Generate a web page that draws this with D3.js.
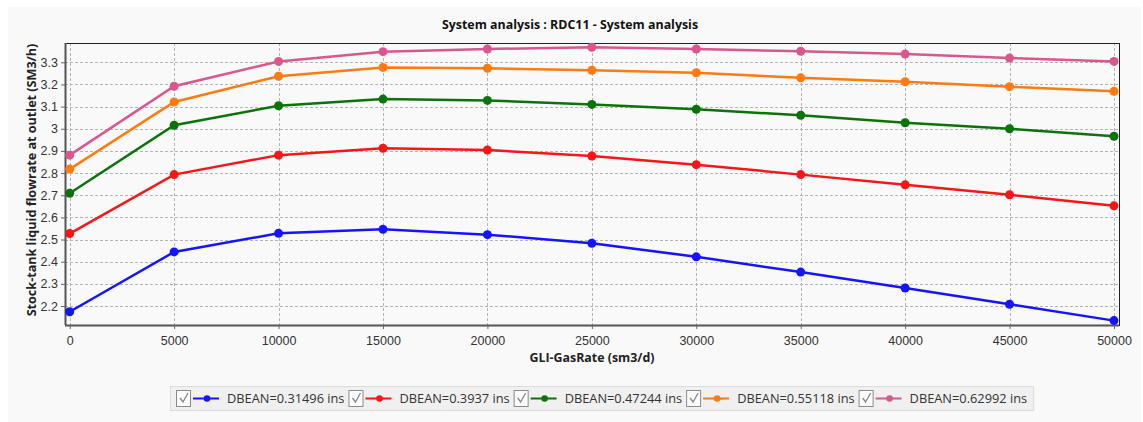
<!DOCTYPE html>
<html>
<head>
<meta charset="utf-8">
<script src="https://cdn.jsdelivr.net/npm/d3@7"></script>
<style>
  body { margin: 0; background: #fff; }
  svg { display: block; font-family: "Open Sans", "DejaVu Sans", sans-serif; }
</style>
</head>
<body>
<svg id="viz"></svg>
<script>
(function() {
  const gasRates = [0, 5000, 10000, 15000, 20000, 25000, 30000, 35000, 40000, 45000, 50000];
  const seriesNames = ['DBEAN=0.31496 ins', 'DBEAN=0.3937 ins', 'DBEAN=0.47244 ins', 'DBEAN=0.55118 ins', 'DBEAN=0.62992 ins'];
  const seriesColors = ['#1414ff', '#f51616', '#0a730a', '#ff7a0f', '#d9578c'];
  const dbean031 = [2.174, 2.444, 2.528, 2.546, 2.522, 2.483, 2.422, 2.353, 2.281, 2.208, 2.134];
  const dbean039 = [2.527, 2.793, 2.881, 2.912, 2.904, 2.877, 2.838, 2.793, 2.747, 2.702, 2.652];
  const dbean047 = [2.709, 3.016, 3.104, 3.134, 3.128, 3.110, 3.088, 3.061, 3.027, 3.000, 2.966];
  const dbean055 = [2.818, 3.121, 3.237, 3.277, 3.273, 3.264, 3.253, 3.230, 3.212, 3.190, 3.169];
  const dbean063 = [2.881, 3.192, 3.304, 3.348, 3.360, 3.368, 3.360, 3.350, 3.337, 3.319, 3.304];
  const yTicks = [2.2, 2.3, 2.4, 2.5, 2.6, 2.7, 2.8, 2.9, 3, 3.1, 3.2, 3.3];

  const allSeries = [dbean031, dbean039, dbean047, dbean055, dbean063];

  const W = 1143, H = 422;
  const plot = { left: 65, top: 43, right: 1119, bottom: 325 };

  const svg = d3.select('#viz').attr('width', W).attr('height', H);

  // panel background
  svg.append('rect').attr('x', 8).attr('y', 7).attr('width', W - 10).attr('height', H - 7).attr('fill', '#f9f9f9');

  const x = d3.scaleLinear().domain([0, 50000]).range([69.7, 1114]);
  const y = d3.scaleLinear().domain([2.2, 3.3]).range([306, 62.3]);

  // grid
  const grid = svg.append('g').attr('stroke', '#b4b4b4').attr('stroke-dasharray', '3,2').attr('stroke-width', 1);
  grid.selectAll('line.v').data(gasRates).join('line')
    .attr('x1', d => Math.round(x(d)) + 0.5).attr('x2', d => Math.round(x(d)) + 0.5)
    .attr('y1', plot.top).attr('y2', plot.bottom);
  grid.selectAll('line.h').data(yTicks).join('line')
    .attr('y1', d => Math.round(y(d)) + 0.5).attr('y2', d => Math.round(y(d)) + 0.5)
    .attr('x1', plot.left).attr('x2', plot.right);

  // frame
  svg.append('rect')
    .attr('x', plot.left + 0.5).attr('y', plot.top + 0.5)
    .attr('width', plot.right - plot.left).attr('height', plot.bottom - plot.top)
    .attr('fill', 'none').attr('stroke', '#222').attr('stroke-width', 1);

  // axes
  const xAxis = svg.append('g').attr('transform', `translate(0,${plot.bottom})`)
    .call(d3.axisBottom(x).tickValues(gasRates).tickFormat(d3.format('d')).tickSize(4).tickSizeOuter(0));
  const yAxis = svg.append('g').attr('transform', `translate(${plot.left},0)`)
    .call(d3.axisLeft(y).tickValues(yTicks).tickFormat(d => String(d)).tickSize(4).tickSizeOuter(0));
  [xAxis, yAxis].forEach(a => {
    a.select('.domain').attr('stroke', '#555').attr('stroke-width', 2);
    a.selectAll('.tick line').attr('stroke', '#666');
    a.selectAll('.tick text').attr('fill', '#333').style('font-size', '12.5px');
  });
  yAxis.select('.domain').attr('d', `M0.5,${plot.top}V${plot.bottom}`);
  xAxis.select('.domain').attr('d', `M${plot.left},0.5H${plot.right}`);
  xAxis.selectAll('.tick text').attr('dy', '1.05em');

  // lines
  const line = d3.line().x((d, i) => x(gasRates[i])).y(d => y(d));
  allSeries.forEach((vals, s) => {
    const g = svg.append('g');
    g.append('path').datum(vals).attr('d', line)
      .attr('fill', 'none').attr('stroke', seriesColors[s]).attr('stroke-width', 2.5);
    g.selectAll('circle').data(vals).join('circle')
      .attr('cx', (d, i) => x(gasRates[i])).attr('cy', d => y(d)).attr('r', 4.5)
      .attr('fill', seriesColors[s]);
  });

  // titles
  svg.append('text').attr('x', 570).attr('y', 29).attr('text-anchor', 'middle')
    .style('font-size', '12.4px').style('font-weight', 'bold').attr('fill', '#111')
    .text('System analysis : RDC11 - System analysis');
  svg.append('text').attr('x', 592).attr('y', 362).attr('text-anchor', 'middle')
    .style('font-size', '12.4px').style('font-weight', 'bold').attr('fill', '#222')
    .text('GLI-GasRate (sm3/d)');
  svg.append('text').attr('transform', `translate(36,${(plot.top + plot.bottom) / 2 - 4}) rotate(-90)`)
    .attr('text-anchor', 'middle')
    .style('font-size', '12.6px').style('font-weight', 'bold').attr('fill', '#222')
    .text('Stock-tank liquid flowrate at outlet (SM3/h)');

  // legend
  const legend = svg.append('g');
  const box = legend.append('rect').attr('y', 386.5).attr('height', 24)
    .attr('fill', '#f0f0f0').attr('stroke', '#dcdcdc');
  let cx = 176;
  seriesNames.forEach((name, s) => {
    legend.append('rect').attr('x', cx + 0.5).attr('y', 390.5).attr('width', 14).attr('height', 16)
      .attr('fill', '#fdfdfd').attr('stroke', '#8a8a8a');
    legend.append('path').attr('d', `M${cx + 4},${398} l3,4 l5,-9`)
      .attr('fill', 'none').attr('stroke', '#888').attr('stroke-width', 1.3);
    legend.append('line').attr('x1', cx + 17).attr('x2', cx + 43).attr('y1', 398.5).attr('y2', 398.5)
      .attr('stroke', seriesColors[s]).attr('stroke-width', 2);
    legend.append('circle').attr('cx', cx + 31).attr('cy', 398.5).attr('r', 3.3).attr('fill', seriesColors[s]);
    const t = legend.append('text').attr('x', cx + 51).attr('y', 403)
      .style('font-size', '12.8px').attr('fill', '#333').text(name);
    const w = t.node().getComputedTextLength();
    cx = cx + 51 + w + 4;
  });
  box.attr('x', 170.5).attr('width', cx - 170 + 2);
})();
</script>
</body>
</html>
